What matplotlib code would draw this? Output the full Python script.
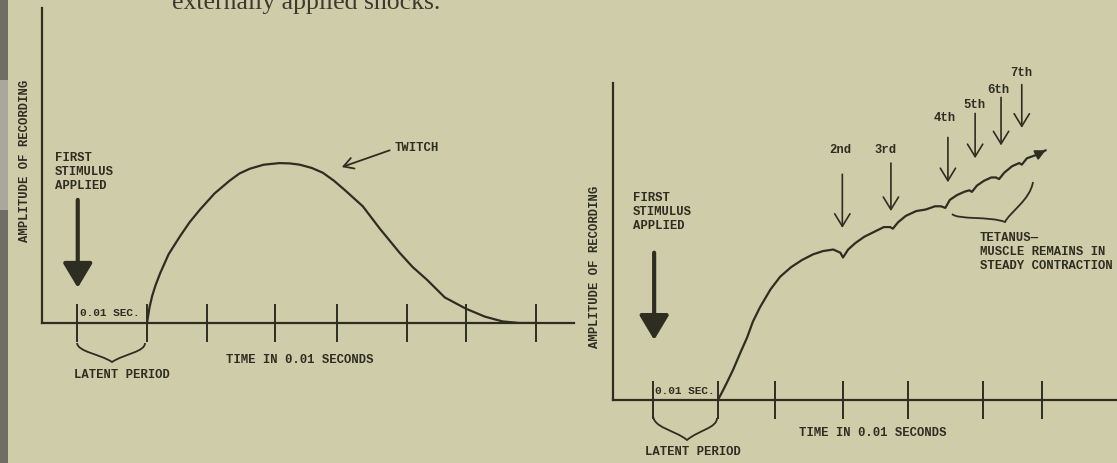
import matplotlib
matplotlib.use('Agg')
import matplotlib.pyplot as plt
from matplotlib.path import Path
from matplotlib.patches import PathPatch, Rectangle

W, H = 1117, 463
PAPER = '#cfcda9'
INK = '#2e2d22'
MONO = dict(family=['Liberation Mono', 'DejaVu Sans Mono'], weight='bold', size=8.8, color=INK)

# single twitch (time in 0.01 s, amplitude relative to twitch peak)
twitch_t = [1.07, 1.09, 1.11, 1.15, 1.20, 1.27, 1.40, 1.57, 1.72, 1.88, 2.10, 2.33, 2.48, 2.64, 2.85,
            3.09, 3.25, 3.40, 3.58, 3.75, 3.92, 4.09, 4.36, 4.62, 4.92, 5.12, 5.34, 5.61, 5.93,
            6.22, 6.49, 6.75, 7.00]
twitch_amp = [0, 0.05, 0.10, 0.17, 0.235, 0.31, 0.43, 0.54, 0.63, 0.71, 0.81, 0.89, 0.935, 0.965, 0.99,
              1.00, 0.998, 0.99, 0.97, 0.94, 0.89, 0.83, 0.73, 0.59, 0.44, 0.35, 0.27, 0.16, 0.09,
              0.04, 0.01, 0, 0]
twitch_ticks = [0, 1.07, 1.98, 3.02, 3.96, 5.03, 5.93, 7.0]

# summation -> tetanus
tet_t = [1.00, 1.065, 1.14, 1.235, 1.34, 1.45, 1.54, 1.65, 1.81, 1.96, 2.13, 2.30, 2.47, 2.62, 2.78, 2.89, 2.93,
         3.01, 3.12, 3.26, 3.41, 3.56, 3.66, 3.70,
         3.78, 3.90, 4.06, 4.21, 4.35, 4.44, 4.51,
         4.58, 4.69, 4.80, 4.88, 4.92,
         5.00, 5.11, 5.22, 5.29, 5.34,
         5.42, 5.54, 5.65, 5.69,
         5.77, 5.91, 6.06]
tet_amp = [0, 0.05, 0.11, 0.19, 0.29, 0.39, 0.49, 0.58, 0.69, 0.77, 0.83, 0.875, 0.91, 0.93, 0.94, 0.92, 0.89,
           0.94, 0.98, 1.02, 1.05, 1.08, 1.08, 1.07,
           1.11, 1.15, 1.18, 1.19, 1.21, 1.21, 1.20,
           1.25, 1.28, 1.30, 1.31, 1.30,
           1.34, 1.37, 1.39, 1.39, 1.38,
           1.42, 1.46, 1.48, 1.47,
           1.51, 1.53, 1.56]
tet_ticks = [0, 1.0, 1.88, 2.93, 3.94, 5.09, 6.0]

stim_labels = ['2nd', '3rd', '4th', '5th', '6th', '7th']
stim_t = [2.92, 3.67, 4.55, 4.97, 5.37, 5.69]
stim_top = [1.41, 1.48, 1.64, 1.79, 1.89, 1.97]
stim_tip = [1.075, 1.18, 1.36, 1.51, 1.59, 1.70]
stim_label_px = [(840, 150), (886, 150), (945, 118), (974, 105), (998, 90), (1021, 73)]

fig = plt.figure(figsize=(W / 100, H / 100), dpi=100, facecolor=PAPER)

# overlay in image pixels for labels and braces
ov = fig.add_axes([0, 0, 1, 1])
ov.set_xlim(0, W)
ov.set_ylim(H, 0)
ov.axis('off')
ov.add_patch(Rectangle((0, 0), 8, H, color='#6f6e66', lw=0))
ov.add_patch(Rectangle((0, 80), 8, 130, color='#a9a89c', lw=0))
# page text above the figure, cut by the top edge as in the scan
ov.text(172, 9, 'externally applied shocks.', family='Liberation Serif', size=18.5,
        color='#3b3a30', ha='left', va='baseline')


def setup(ax, xlim, ylim, ticks):
    ax.set_facecolor('none')
    ax.set_xlim(*xlim)
    ax.set_ylim(*ylim)
    for s in ['top', 'right']:
        ax.spines[s].set_visible(False)
    for s in ['left', 'bottom']:
        ax.spines[s].set_color(INK)
        ax.spines[s].set_linewidth(1.6)
    ax.set_yticks([])
    ax.set_xticks(ticks)
    ax.set_xticklabels([])
    ax.tick_params(axis='x', direction='inout', length=28, width=1.4, color=INK)


def brace(p0, c0, c1, tip, c2, c3, p1):
    verts = [p0, c0, c1, tip, c2, c3, p1]
    codes = [Path.MOVETO] + [Path.CURVE4] * 6
    ov.add_patch(PathPatch(Path(verts, codes), fill=False, ec=INK, lw=1.3))


def big_arrow(ax, t, y0, y1):
    ax.annotate('', xy=(t, y1), xytext=(t, y0), annotation_clip=False,
                arrowprops=dict(arrowstyle='-|>,head_length=0.75,head_width=0.45', lw=3,
                                color=INK, mutation_scale=20, shrinkA=0, shrinkB=0))


axL = fig.add_axes([42 / W, 1 - 323 / H, 532 / W, 315 / H])
setup(axL, (-0.53, 7.58), (0, 1.97), twitch_ticks)
axL.plot(twitch_t, twitch_amp, color=INK, lw=1.6, solid_capstyle='round', solid_joinstyle='round')
big_arrow(axL, 0.015, 0.77, 0.22)
axL.annotate('', xy=(4.04, 0.975), xytext=(4.77, 1.08), annotation_clip=False,
             arrowprops=dict(arrowstyle='->,head_length=0.7,head_width=0.4', lw=1.3,
                             color=INK, shrinkA=0, shrinkB=0))

axR = fig.add_axes([613 / W, 1 - 400 / H, 504 / W, 317 / H])
setup(axR, (-0.62, 7.16), (0, 1.98), tet_ticks)
axR.plot(tet_t, tet_amp, color=INK, lw=1.6, solid_capstyle='round', solid_joinstyle='round')
axR.annotate('', xy=(tet_t[-1], tet_amp[-1]), xytext=(tet_t[-2], tet_amp[-2]), annotation_clip=False,
             arrowprops=dict(arrowstyle='-|>,head_length=0.6,head_width=0.3', lw=1.4,
                             color=INK, shrinkA=0, shrinkB=0))
big_arrow(axR, 0.015, 0.92, 0.375)
for t, y0, y1 in zip(stim_t, stim_top, stim_tip):
    axR.annotate('', xy=(t, y1), xytext=(t, y0), annotation_clip=False,
                 arrowprops=dict(arrowstyle='->,head_length=0.9,head_width=0.55', lw=1.2,
                                 color=INK, shrinkA=0, shrinkB=0))
for lab, (x, y) in zip(stim_labels, stim_label_px):
    ov.text(x, y, lab, ha='center', va='center', **MONO)

# text, left panel
ov.text(25, 161, 'AMPLITUDE OF RECORDING', rotation=90, ha='center', va='center', **MONO)
ov.text(55, 172, 'FIRST\nSTIMULUS\nAPPLIED', ha='left', va='center', linespacing=1.25, **MONO)
ov.text(80, 313, '0.01 SEC.', ha='left', va='center', **{**MONO, 'size': 8})
ov.text(122, 375, 'LATENT PERIOD', ha='center', va='center', **MONO)
ov.text(300, 360, 'TIME IN 0.01 SECONDS', ha='center', va='center', **MONO)
ov.text(395, 148, 'TWITCH', ha='left', va='center', **MONO)
brace((77, 343), (78, 352), (100, 354), (112, 362), (124, 354), (145, 352), (145, 343))

# text, right panel
ov.text(595, 267, 'AMPLITUDE OF RECORDING', rotation=90, ha='center', va='center', **MONO)
ov.text(633, 212, 'FIRST\nSTIMULUS\nAPPLIED', ha='left', va='center', linespacing=1.25, **MONO)
ov.text(655, 391, '0.01 SEC.', ha='left', va='center', **{**MONO, 'size': 8})
ov.text(693, 452, 'LATENT PERIOD', ha='center', va='center', **MONO)
ov.text(873, 433, 'TIME IN 0.01 SECONDS', ha='center', va='center', **MONO)
ov.text(980, 252, 'TETANUS\u2014\nMUSCLE REMAINS IN\nSTEADY CONTRACTION', ha='left', va='center',
        linespacing=1.2, **MONO)
brace((653, 415), (653, 428), (675, 430), (687, 440), (699, 430), (717, 428), (717, 418))
brace((952, 214), (958, 220), (990, 216), (1005, 222), (1010, 212), (1030, 200), (1033, 182))

fig.savefig('out.png', dpi=100, facecolor=PAPER)
